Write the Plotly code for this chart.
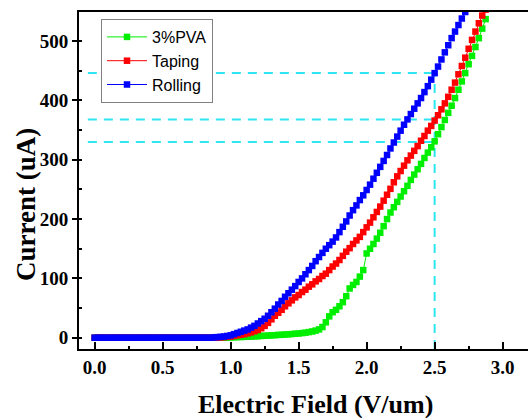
import plotly.graph_objects as go

# Electric field grid (V/um)
field = [
    0.000, 0.025, 0.050, 0.075, 0.100, 0.125, 0.150, 0.175,
    0.200, 0.225, 0.250, 0.275, 0.300, 0.325, 0.350, 0.375,
    0.400, 0.425, 0.450, 0.475, 0.500, 0.525, 0.550, 0.575,
    0.600, 0.625, 0.650, 0.675, 0.700, 0.725, 0.750, 0.775,
    0.800, 0.825, 0.850, 0.875, 0.900, 0.925, 0.950, 0.975,
    1.000, 1.025, 1.050, 1.075, 1.100, 1.125, 1.150, 1.175,
    1.200, 1.225, 1.250, 1.275, 1.300, 1.325, 1.350, 1.375,
    1.400, 1.425, 1.450, 1.475, 1.500, 1.525, 1.550, 1.575,
    1.600, 1.625, 1.650, 1.675, 1.700, 1.725, 1.750, 1.775,
    1.800, 1.825, 1.850, 1.875, 1.900, 1.925, 1.950, 1.975,
    2.000, 2.025, 2.050, 2.075, 2.100, 2.125, 2.150, 2.175,
    2.200, 2.225, 2.250, 2.275, 2.300, 2.325, 2.350, 2.375,
    2.400, 2.425, 2.450, 2.475, 2.500, 2.525, 2.550, 2.575,
    2.600, 2.625, 2.650, 2.675, 2.700, 2.725, 2.750, 2.775,
    2.800, 2.825, 2.850, 2.875,
]

# Current (uA)
pva3 = [
    0, 0, 0, 0, 0, 0, 0, 0, 0, 0, 0, 0, 0, 0, 0, 0, 0, 0, 0, 0,
    0, 0, 0, 0, 0, 0, 0, 0, 0, 0, 0, 0, 0, 0, 0, 0, 0, 0, 0,
    0.3, 0.5, 0.7, 1, 1.2, 1.5, 1.8, 2, 2.3, 2.6,
    3, 3.3, 3.6, 4, 4.3, 4.7, 5, 5.4, 5.8, 6.2,
    6.7, 7.2, 7.8, 8.5, 9.5, 10.5, 12, 14, 18, 26,
    36, 43, 47, 53, 60, 70, 83, 89, 94, 103,
    114, 142, 150, 158, 167, 177, 188, 200, 211, 220,
    229, 238, 247, 256, 266, 275, 284, 293, 303, 312,
    321, 331, 343, 355, 367, 379, 391, 404, 418, 432,
    446, 461, 475, 490, 505, 521, 537,
]

taping = [
    0, 0, 0, 0, 0, 0, 0, 0, 0, 0, 0, 0, 0, 0, 0, 0, 0, 0, 0, 0,
    0, 0, 0, 0, 0, 0, 0, 0, 0, 0, 0, 0, 0, 0, 0, 0, 0,
    0.5, 1, 1.5, 2, 3, 4, 5, 6, 7.5, 9,
    11, 13, 16, 20, 25, 31, 37, 42, 47, 53,
    58, 63, 68, 72, 77, 81, 86, 90, 95, 99,
    104, 108, 114, 120, 125, 131, 138, 145, 151, 158,
    164, 170, 178, 186, 194, 203, 212, 221, 231, 241,
    251, 262, 272, 281, 290, 299, 307, 315, 323, 332,
    340, 349, 357, 366, 375, 385, 395, 406, 418, 430,
    444, 458, 472, 487, 502, 516, 530, 543, 553,
]

rolling = [
    0, 0, 0, 0, 0, 0, 0, 0, 0, 0, 0, 0, 0, 0, 0, 0, 0, 0, 0, 0,
    0, 0, 0, 0, 0, 0, 0, 0, 0, 0, 0, 0, 0, 0, 0,
    0.5, 1, 1.5, 2, 3, 4, 6, 8, 10, 12,
    14, 17, 20, 24, 28, 32, 37, 43, 49, 56,
    62, 69, 75, 81, 87, 94, 100, 107, 114, 121,
    129, 136, 143, 150, 156, 162, 169, 178, 187, 196,
    206, 215, 223, 232, 240, 249, 258, 268, 278, 288,
    298, 308, 319, 329, 339, 349, 359, 368, 377, 386,
    395, 404, 414, 424, 435, 446, 457, 469, 481, 493,
    505, 516, 527, 538, 549,
]

series_names = ["3%PVA", "Taping", "Rolling"]
series_values = [pva3, taping, rolling]
series_colors = ["#00ee00", "#ff0000", "#0000ff"]

# Reference guide at 2.5 V/um
ref_field = 2.5
ref_currents = [446, 368, 330]
guide_start = -0.05
x_ticks = [0.0, 0.5, 1.0, 1.5, 2.0, 2.5, 3.0]
y_ticks = [0, 100, 200, 300, 400, 500]

fig = go.Figure()

guide_color = "#2ee6f2"
for c in ref_currents:
    fig.add_trace(go.Scatter(
        x=[guide_start, ref_field], y=[c, c], mode="lines",
        line=dict(color=guide_color, width=2, dash="9px,7px"),
        showlegend=False, hoverinfo="skip"))
fig.add_trace(go.Scatter(
    x=[ref_field, ref_field], y=[-19, max(ref_currents)], mode="lines",
    line=dict(color=guide_color, width=2, dash="9px,7px"),
    showlegend=False, hoverinfo="skip"))

for name, vals, col in zip(series_names, series_values, series_colors):
    fig.add_trace(go.Scatter(
        x=field[:len(vals)], y=vals, mode="lines+markers", name=name,
        line=dict(color=col, width=1),
        marker=dict(symbol="square", size=6.5, color=col, line=dict(width=0)),
    ))

tick_font = dict(family="Liberation Serif", size=19, color="black", weight="bold")
x_title_font = dict(family="Liberation Serif", size=26, color="black", weight="bold")
y_title_font = dict(family="Liberation Serif", size=27, color="black", weight="bold")

# Figure is a bit wider than the 528px window; the right part is cropped,
# like the reference where the frame runs off the right edge.
FIG_W, FIG_H = 560, 418
L, T, B = 79, 12, 69
plot_w = FIG_W - L
plot_h = FIG_H - T - B


def px_x(p):
    return (p - L) / plot_w


def px_y(p):
    return 1 - (p - T) / plot_h


fig.update_layout(
    width=FIG_W, height=FIG_H,
    margin=dict(l=L, r=0, t=T, b=B),
    paper_bgcolor="white", plot_bgcolor="white",
    showlegend=True,
    legend=dict(
        x=px_x(101), y=px_y(19), xanchor="left", yanchor="top",
        bgcolor="white", bordercolor="#808080", borderwidth=1,
        font=dict(family="Liberation Sans", size=16, color="black"),
        tracegroupgap=0, itemwidth=40,
    ),
    xaxis=dict(
        range=[-0.115, -0.115 + plot_w / 136.0], tickvals=x_ticks, tickformat=".1f",
        ticks="inside", ticklen=7, tickwidth=2, tickcolor="black",
        showline=True, linewidth=2, linecolor="black", mirror=True,
        showgrid=False, zeroline=False, tickfont=tick_font,
        ticklabelstandoff=0,
        minor=dict(dtick=0.25, tick0=0, ticks="inside", ticklen=3, tickwidth=2,
                   tickcolor="black", showgrid=False),
    ),
    yaxis=dict(
        range=[-19, 549], tickvals=y_ticks,
        ticks="outside", ticklen=5, tickwidth=2, tickcolor="black",
        showline=True, linewidth=2, linecolor="black", mirror=False,
        showgrid=False, zeroline=False, tickfont=tick_font,
        minor=dict(dtick=50, tick0=0, ticks="inside", ticklen=3, tickwidth=2,
                   tickcolor="black", showgrid=False),
    ),
    annotations=[
        dict(text="Electric Field (V/um)", xref="paper", yref="paper",
             x=px_x(315), y=px_y(404), xanchor="center", yanchor="middle",
             showarrow=False, font=x_title_font),
        dict(text="Current (uA)", xref="paper", yref="paper",
             x=px_x(26), y=px_y(205), xanchor="center", yanchor="middle",
             textangle=-90, showarrow=False, font=y_title_font),
    ],
)

fig.write_html(
    "out.html",
    config={"displayModeBar": False},
    post_script=(
        "document.documentElement.style.overflow='hidden';"
        "document.body.style.margin='0';"
        "document.body.style.overflow='hidden';"
    ),
)
